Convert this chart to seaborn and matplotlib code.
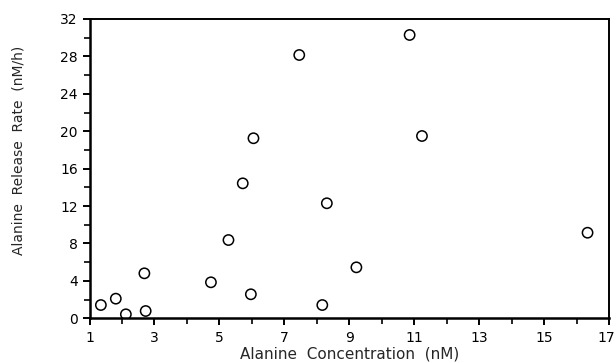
import matplotlib
matplotlib.use("Agg")
import matplotlib.pyplot as plt
import matplotlib.transforms as mtransforms
import seaborn as sns
import pandas as pd
from matplotlib.ticker import MultipleLocator

concentration = [1.35, 1.81, 2.12, 2.69, 2.73, 4.74, 5.28, 5.72, 5.97, 6.05,
                 7.46, 8.17, 8.31, 9.22, 10.86, 11.24, 16.34]
release_rate = [1.42, 2.10, 0.43, 4.81, 0.78, 3.85, 8.37, 14.43, 2.57, 19.25,
                28.15, 1.42, 12.3, 5.45, 30.29, 19.49, 9.15]
x_ticks = [1, 3, 5, 7, 9, 11, 13, 15, 17]
y_ticks = [0, 4, 8, 12, 16, 20, 24, 28, 32]

df = pd.DataFrame({"conc": concentration, "rate": release_rate})

sns.set_style("ticks")
plt.rcParams['font.family'] = ['DejaVu Sans']

fig = plt.figure(figsize=(6.16, 3.63), dpi=100)
ax = fig.add_axes([0.1453, 0.1231, 0.8433, 0.8246])

sns.scatterplot(data=df, x="conc", y="rate", ax=ax, marker="o", s=55,
                facecolor="none", edgecolor="black", linewidth=1.1, legend=False)

ax.set_xlim(1, 17)
ax.set_ylim(0, 32)
ax.set_xticks(x_ticks)
ax.set_xticklabels([str(t) for t in x_ticks])
ax.set_yticks(y_ticks)
ax.set_yticklabels([str(t) for t in y_ticks])
ax.xaxis.set_minor_locator(MultipleLocator(1))
ax.yaxis.set_minor_locator(MultipleLocator(2))

ax.tick_params(axis="both", which="major", direction="out", length=5, width=1.4,
               labelsize=10, colors="black")
ax.tick_params(axis="x", which="major", pad=4)
ax.tick_params(axis="both", which="minor", direction="out", length=4, width=1.4)
ax.tick_params(top=False, right=False, which="both")

# keep the last x tick label inside the figure
last = ax.get_xticklabels()[-1]
last.set_transform(last.get_transform() +
                   mtransforms.ScaledTranslation(-3 / 100, 0, fig.dpi_scale_trans))

for side in ["left", "bottom"]:
    ax.spines[side].set_linewidth(1.8)
for side in ["top", "right"]:
    ax.spines[side].set_visible(True)
    ax.spines[side].set_linewidth(1.4)
for s in ax.spines.values():
    s.set_color("black")

ax.set_xlabel("Alanine  Concentration  (nM)", fontsize=11, va="center")
ax.xaxis.set_label_coords(0.5, -0.118)
ax.set_ylabel("Alanine  Release  Rate  (nM/h)", fontsize=10, va="center")
ax.yaxis.set_label_coords(-0.137, 0.56)

fig.savefig("out.png", dpi=100)
